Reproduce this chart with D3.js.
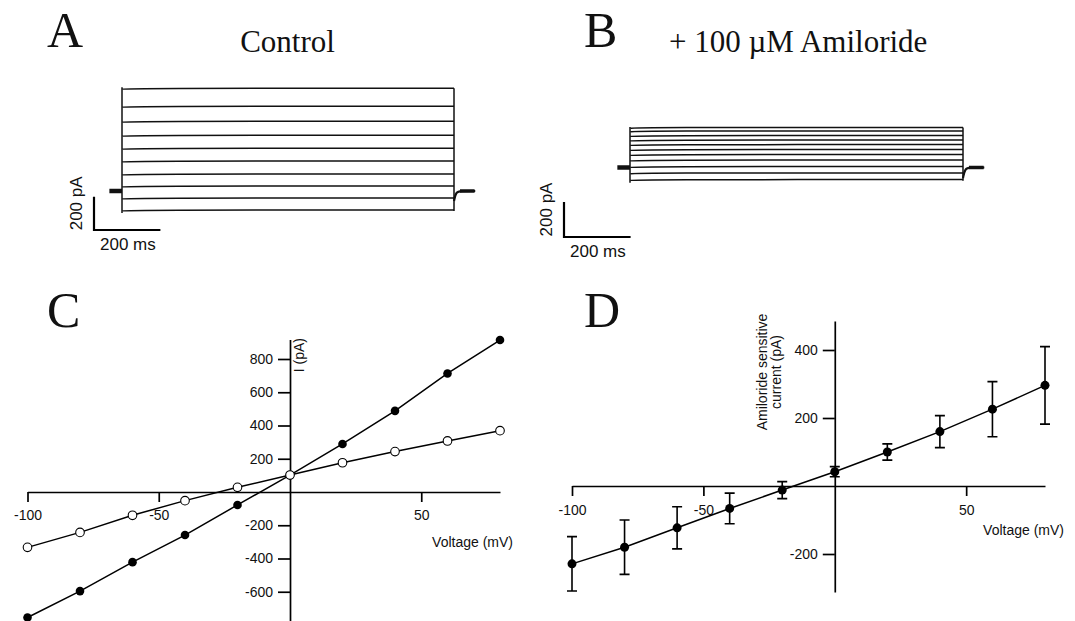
<!DOCTYPE html>
<html><head><meta charset="utf-8">
<script src="https://cdn.jsdelivr.net/npm/d3@7"></script>
<style>body{margin:0;background:#fff} svg{display:block}</style>
</head><body>
<svg id="fig" width="1075" height="621"></svg>
<script>
// ---------- data ----------
const pulseMs = 1000;
const controlTraceLevels   = [617, 509, 419, 335, 257, 180, 102, 30, -42, -114];          // pA rel. holding
const amilorideTraceLevels = [229, 209, 183, 157, 131, 103, 74, 43, 6, -31, -69];        // pA rel. holding
const voltages      = [-100, -80, -60, -40, -20, 0, 20, 40, 60, 80];                      // mV
const controlIV     = [-755, -596, -422, -259, -78, 102, 289, 488, 713, 914];             // pA
const amilorideIV   = [-333, -243, -140, -52, 28, 102, 176, 243, 307, 369];               // pA
const sensitiveMean = [-229, -180, -123, -66, -12, 42, 100, 160, 226, 296];               // pA
const sensitiveErr  = [80, 80, 62, 45, 25, 15, 24, 47, 81, 114];                          // pA
const ivXTicks  = [-100, -50, 50];
const ivCYTicks = [-600, -400, -200, 200, 400, 600, 800];
const ivDYTicks = [-200, 200, 400];
const scaleBarMs = 200, scaleBarPA = 200;

const svg = d3.select("#fig");
const SANS = "'Liberation Sans', Arial, sans-serif";
const SERIF = "'Liberation Serif', 'Times New Roman', serif";
const INK = "#111";
const fmt = d => String(d);   // plain hyphen-minus as in the original

// ---------- panel letters and titles ----------
function txt(x, y, s, size, fam, anchor) {
  return svg.append("text").attr("x", x).attr("y", y).text(s)
    .attr("font-family", fam).attr("font-size", size).attr("fill", INK)
    .attr("text-anchor", anchor || "start");
}
txt(47, 47, "A", 50, SERIF);
txt(584, 47, "B", 50, SERIF);
txt(47, 327, "C", 50, SERIF);
txt(584, 327, "D", 50, SERIF);
txt(287.5, 52, "Control", 31, SERIF, "middle");
txt(669, 52, "+ 100 \u00B5M Amiloride", 31, SERIF);

// ---------- current traces ----------
function tracePanel(levels, t0px, pxPerMs, holdY, pxPerPA, bar) {
  const x = d3.scaleLinear().domain([0, pulseMs]).range([t0px, t0px + pulseMs * pxPerMs]);
  const y = d3.scaleLinear().domain([0, 200]).range([holdY, holdY - 200 * pxPerPA]);
  const g = svg.append("g");
  const line = d3.line().x(d => x(d[0])).y(d => y(d[1]));
  const curve = d3.line().curve(d3.curveBasis).x(d => x(d[0])).y(d => y(d[1]));
  const lo = d3.min(levels), hi = d3.max(levels);
  // capacitive onset / offset verticals
  g.append("path").attr("d", line([[0, hi * 1.01], [0, lo - 18]]))
    .attr("stroke", INK).attr("stroke-width", 1.5).attr("fill", "none");
  g.append("path").attr("d", line([[pulseMs, hi], [pulseMs, lo - 6]]))
    .attr("stroke", INK).attr("stroke-width", 1.5).attr("fill", "none");
  levels.forEach((L, i) => {
    const pts = [[1, L - 6], [6, L], [pulseMs, L]];
    g.append("path").attr("d", curve(pts))
      .attr("stroke", INK).attr("stroke-width", 1.5).attr("fill", "none");
  });
  // holding stubs
  g.append("path").attr("d", line([[-38, 0], [0, 0]]))
    .attr("stroke", INK).attr("stroke-width", 4.5).attr("fill", "none");
  g.append("path").attr("d", curve([[pulseMs, -60], [pulseMs + 6, -5], [pulseMs + 20, 0], [pulseMs + 64, 0]]))
    .attr("stroke", INK).attr("stroke-width", 2.2).attr("fill", "none");
  g.append("path").attr("d", line([[pulseMs + 18, 0], [pulseMs + 62, 0]]))
    .attr("stroke", INK).attr("stroke-width", 3.5).attr("fill", "none");
  // scale bar
  const bw = x(scaleBarMs) - x(0), bh = y(0) - y(scaleBarPA);
  g.append("path").attr("d", `M${bar.x},${bar.y - bh}V${bar.y}H${bar.x + bw}`)
    .attr("stroke", "#000").attr("stroke-width", 2.2).attr("fill", "none");
  svg.append("text").attr("transform", `translate(${bar.x - 12},${bar.y - bh / 2 - 10}) rotate(-90)`)
    .attr("text-anchor", "middle").attr("font-family", SANS).attr("font-size", 17).attr("fill", INK)
    .text(`${scaleBarPA} pA`);
  txt(bar.x + 6, bar.y + 20, `${scaleBarMs} ms`, 17, SANS);
}
tracePanel(controlTraceLevels, 122, 0.332, 191, 33.3 / 200, {x: 94, y: 230});
tracePanel(amilorideTraceLevels, 630, 0.333, 167.5, 35 / 200, {x: 564, y: 237});

// ---------- IV axes helper ----------
function ivAxes(x, y, yLo, yHi, yTicks, xPad) {
  const g = svg.append("g");
  const x0 = x(0), y0 = y(0);
  const ax = d3.axisBottom(x).tickValues(ivXTicks).tickSizeInner(10).tickSizeOuter(0)
    .tickPadding(xPad).tickFormat(fmt);
  const gx = g.append("g").attr("transform", `translate(0,${y0})`).call(ax);
  const yAxScale = y.copy().domain([yLo, yHi]).range([y(yLo), y(yHi)]);
  const ay = d3.axisLeft(yAxScale).tickValues(yTicks).tickSizeInner(12).tickSizeOuter(0)
    .tickPadding(5).tickFormat(fmt);
  const gy = g.append("g").attr("transform", `translate(${x0},0)`).call(ay);
  [gx, gy].forEach(a => {
    a.selectAll("path,line").attr("stroke", "#000").attr("stroke-width", 1.7);
    a.selectAll("text").attr("font-family", SANS).attr("font-size", 14).attr("fill", INK);
  });
  return g;
}

// ---------- Panel C ----------
const xC = d3.scaleLinear().domain([-100, 80]).range([27.5, 500]);
const yC = d3.scaleLinear().domain([0, 800]).range([492, 359]);
ivAxes(xC, yC, -800, 918, ivCYTicks, 8);
svg.append("text").attr("transform", `translate(304,338) rotate(-90)`).attr("text-anchor", "end")
  .attr("font-family", SANS).attr("font-size", 14).attr("fill", INK).text("I (pA)");
txt(513, 547, "Voltage (mV)", 14, SANS, "end");
const lineC = d3.line().x((d, i) => xC(voltages[i])).y(d => yC(d));
svg.append("path").attr("d", lineC(controlIV)).attr("stroke", "#000").attr("stroke-width", 1.5).attr("fill", "none");
svg.append("path").attr("d", lineC(amilorideIV)).attr("stroke", "#000").attr("stroke-width", 1.5).attr("fill", "none");
svg.append("g").selectAll("circle").data(controlIV).join("circle")
  .attr("cx", (d, i) => xC(voltages[i])).attr("cy", d => yC(d)).attr("r", 4.3).attr("fill", "#000");
svg.append("g").selectAll("circle").data(amilorideIV).join("circle")
  .attr("cx", (d, i) => xC(voltages[i])).attr("cy", d => yC(d)).attr("r", 4.3)
  .attr("fill", "#fff").attr("stroke", "#000").attr("stroke-width", 1.1);

// ---------- Panel D ----------
const xD = d3.scaleLinear().domain([-100, 80]).range([572, 1045]);
const yD = d3.scaleLinear().domain([0, 400]).range([486, 350]);
ivAxes(xD, yD, -312, 485, ivDYTicks, 9);
const dl = svg.append("text").attr("transform", `translate(767,372) rotate(-90)`).attr("text-anchor", "middle")
  .attr("font-family", SANS).attr("font-size", 14).attr("fill", INK);
dl.append("tspan").attr("x", 0).attr("y", 0).text("Amiloride sensitive");
dl.append("tspan").attr("x", 0).attr("y", 14).text("current (pA)");
txt(1064, 535, "Voltage (mV)", 14, SANS, "end");
const lineD = d3.line().x((d, i) => xD(voltages[i])).y(d => yD(d));
svg.append("path").attr("d", lineD(sensitiveMean)).attr("stroke", "#000").attr("stroke-width", 1.5).attr("fill", "none");
const eb = svg.append("g").attr("stroke", "#000").attr("stroke-width", 1.6).attr("fill", "none");
sensitiveMean.forEach((m, i) => {
  const cx = xD(voltages[i]), t = yD(m + sensitiveErr[i]), b = yD(m - sensitiveErr[i]);
  eb.append("path").attr("d", `M${cx},${t}V${b}M${cx - 5},${t}H${cx + 5}M${cx - 5},${b}H${cx + 5}`);
});
svg.append("g").selectAll("circle").data(sensitiveMean).join("circle")
  .attr("cx", (d, i) => xD(voltages[i])).attr("cy", d => yD(d)).attr("r", 4.5).attr("fill", "#000");
</script>
</body></html>
